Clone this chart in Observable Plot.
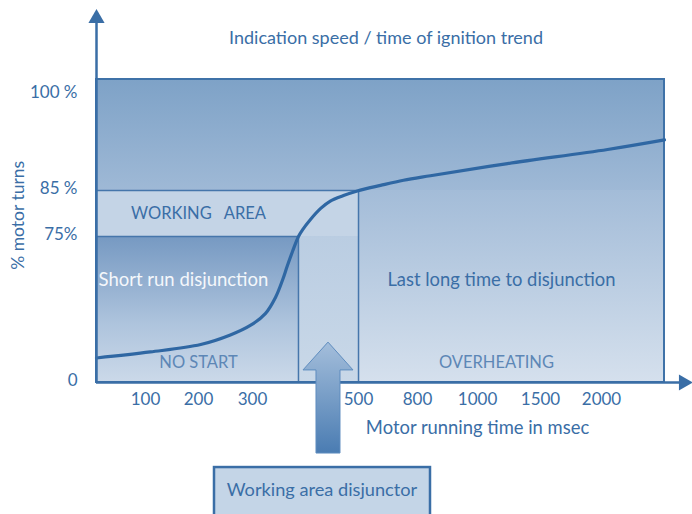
<!DOCTYPE html>
<html><head><meta charset="utf-8">
<script src="https://cdn.jsdelivr.net/npm/d3@7"></script>
<script src="https://cdn.jsdelivr.net/npm/@observablehq/plot@0.6"></script>
<style>body{margin:0;background:#fff;} #chart svg{display:block;}</style>
</head><body><div id="chart"></div>
<script>
// ---- data ----
const title = "Indication speed / time of ignition trend";
const xLabel = "Motor running time in msec";
const yLabel = "% motor turns";
const xTickValues = [100, 200, 300, 500, 800, 1000, 1500, 2000];
const yTickValues = [0, 75, 85, 100];
const yTickLabels = ["0", "75%", "85 %", "100 %"];
// curve: motor running time (ms) vs % motor turns
const curveMs  = [0, 109, 204, 259, 296, 328, 350, 365, 376, 387, 400, 407, 420, 437, 453, 475, 498, 612, 729, 843, 1238, 2048, 2500];
const curvePct = [12.6, 15.7, 19.5, 24.4, 29.3, 35.4, 43.7, 52.4, 60.1, 67.3, 75, 76.5, 78.7, 81.1, 82.7, 83.9, 84.9, 85.8, 86.6, 87.3, 89.2, 91.4, 92.9];
// zones (ms, %)
const zoneNames = ["outer", "overheating", "working", "disjunctor", "shortRun"];
const zoneX1 = [0, 500, 0, 400, 0];
const zoneX2 = [2500, 2500, 500, 500, 400];
const zoneY1 = [0, 0, 75, 0, 0];
const zoneY2 = [103, 85, 85, 75, 75];
const labelTexts = ["WORKING   AREA", "Short run disjunction", "NO START", "Last long time to disjunction", "OVERHEATING"];
const labelMs  = [200, 0, 200, 1190, 1150];
const labelPct = [80, 52.5, 10, 52.5, 10];
const boxText = "Working area disjunctor";

// ---- piecewise axis layout of the drawing (ms / % -> axis units 0..10) ----
const xBreaks = [0, 100, 200, 300, 400, 500, 800, 1000, 1500, 2000, 2500, 2700];
const xUnits  = [0, 0.863, 1.796, 2.746, 3.556, 4.613, 5.651, 6.708, 7.817, 8.891, 10, 10.42];
const yBreaks = [0, 75, 85, 100, 103, 118];
const yUnits  = [0, 4.818, 6.337, 9.505, 10, 12.277];
const msU = d3.scaleLinear().domain(xBreaks).range(xUnits);
const pctU = d3.scaleLinear().domain(yBreaks).range(yUnits);

const W = 692, H = 514;
const curve = curveMs.map((m, i) => ({ms: m, pct: curvePct[i]}));
const zones = zoneNames.map((n, i) => ({name: n, x1: zoneX1[i], x2: zoneX2[i], y1: zoneY1[i], y2: zoneY2[i]}));
const zone = n => zones.filter(z => z.name === n);
const labels = labelTexts.map((t, i) => ({text: t, ms: labelMs[i], pct: labelPct[i]}));
const lab = f => labels.filter(f);

const FONT = "Lato, 'Open Sans', sans-serif";
const BLUE = "#3a6ea6";
const ZX1 = d => msU(d.x1), ZX2 = d => msU(d.x2), ZY1 = d => pctU(d.y1), ZY2 = d => pctU(d.y2);
const rectOpts = o => ({x1: ZX1, x2: ZX2, y1: ZY1, y2: ZY2, ...o});

function defs() {
  const d = d3.create("svg:defs");
  const grad = (id, stops) => {
    const g = d.append("linearGradient").attr("id", id).attr("x1", 0).attr("y1", 0).attr("x2", 0).attr("y2", 1);
    stops.forEach(([o, c]) => g.append("stop").attr("offset", o).attr("stop-color", c));
  };
  grad("gOuter", [[0, "#7ea2c7"], [0.37, "#9fb9d6"], [1, "#c2d3e5"]]);
  grad("gRight", [[0, "#a3bcd8"], [1, "#d5e0ed"]]);
  grad("gMid", [[0, "#bacde2"], [1, "#c9d8e8"]]);
  grad("gShort", [[0, "#7699c2"], [0.6, "#aec4dd"], [1, "#cbd9e9"]]);
  grad("gArrow", [[0, "#a4bedb"], [1, "#4a7cb2"]]);
  return d.node();
}

function arrowAndBox(index, scales) {
  const {x, y} = scales;
  const g = d3.create("svg:g");
  const cx = (x(msU(400)) + x(msU(500))) / 2;
  const tip = y(pctU(20.5)), base = y(pctU(6.2)), bottom = y(pctU(-36.5));
  const hw = 25, sw = 12;
  g.append("path")
    .attr("d", `M${cx},${tip}L${cx + hw},${base}L${cx + sw},${base}L${cx + sw},${bottom}L${cx - sw},${bottom}L${cx - sw},${base}L${cx - hw},${base}Z`)
    .attr("fill", "url(#gArrow)").attr("stroke", "#5f8dbf").attr("stroke-width", 1);
  const bw = 216, bx = cx - 6 - bw / 2, by = bottom + 14;
  g.append("rect").attr("x", bx).attr("y", by).attr("width", bw).attr("height", 62)
    .attr("fill", "#c4d5e7").attr("stroke", BLUE).attr("stroke-width", 2.5);
  g.append("text").attr("x", bx + bw / 2).attr("y", by + 24).attr("text-anchor", "middle")
    .attr("dominant-baseline", "middle").attr("fill", BLUE).attr("font-size", 18.2).attr("font-family", FONT)
    .text(boxText);
  return g.node();
}

const chart = Plot.plot({
  width: W, height: H,
  marginLeft: 96, marginRight: W - 664, marginTop: 79, marginBottom: H - 382,
  style: {fontFamily: FONT, background: "#fff", overflow: "visible"},
  x: {domain: [0, 10], axis: null},
  y: {domain: [0, 10], axis: null},
  marks: [
    defs,
    Plot.rect(zone("outer"), rectOpts({fill: "url(#gOuter)"})),
    Plot.rect(zone("overheating"), rectOpts({fill: "url(#gRight)"})),
    Plot.rect(zone("working"), rectOpts({fill: "#c4d4e6"})),
    Plot.rect(zone("disjunctor"), rectOpts({fill: "url(#gMid)"})),
    Plot.rect(zone("shortRun"), rectOpts({fill: "url(#gShort)"})),
    // zone borders
    Plot.ruleY(zone("working"), {y: ZY2, x1: ZX1, x2: ZX2, stroke: "#4676ab", strokeWidth: 1.5}),
    Plot.ruleY(zone("shortRun"), {y: ZY2, x1: ZX1, x2: ZX2, stroke: "#4676ab", strokeWidth: 1.5}),
    Plot.ruleX(zone("shortRun"), {x: ZX2, y1: ZY1, y2: ZY2, stroke: "#4676ab", strokeWidth: 1.5}),
    Plot.ruleX(zone("overheating"), {x: ZX1, y1: ZY1, y2: ZY2, stroke: "#4676ab", strokeWidth: 1.5}),
    Plot.rect(zone("outer"), rectOpts({fill: "none", stroke: "#3f72a8", strokeWidth: 2})),
    // labels inside zones
    Plot.text(lab(d => d.text.startsWith("WORKING")), {x: d => msU(d.ms), y: d => pctU(d.pct), text: "text", fill: BLUE, fontSize: 16.5, textAnchor: "middle", style: "white-space:pre"}),
    Plot.text(lab(d => d.text.startsWith("Short")), {x: d => msU(d.ms), y: d => pctU(d.pct), text: "text", fill: "#f4f7fb", fontSize: 18.5, textAnchor: "start", dx: 2}),
    Plot.text(lab(d => d.text.startsWith("Last")), {x: d => msU(d.ms), y: d => pctU(d.pct), text: "text", fill: BLUE, fontSize: 18.4, textAnchor: "middle"}),
    Plot.text(lab(d => d.text === "NO START" || d.text === "OVERHEATING"), {x: d => msU(d.ms), y: d => pctU(d.pct), text: "text", fill: "#5d87b6", fontSize: 16.5, textAnchor: "middle"}),
    // curve
    Plot.line(curve, {x: d => msU(d.ms), y: d => pctU(d.pct), stroke: "#2f67a3", strokeWidth: 3.2, curve: "catmull-rom"}),
    // axes
    Plot.ruleX([0], {y1: 0, y2: pctU(116), stroke: BLUE, strokeWidth: 2.5}),
    Plot.ruleY([0], {x1: 0, x2: msU(2650), stroke: BLUE, strokeWidth: 2.5}),
    Plot.dot([0], {x: 0, y: pctU(116.3), symbol: "triangle", r: 6, fill: BLUE, stroke: "none"}),
    Plot.dot([0], {x: msU(2660), y: 0, symbol: "triangle", r: 6, fill: BLUE, stroke: "none", rotate: 90}),
    Plot.axisX(xTickValues.map(msU), {tickSize: 0, tickPadding: 10, fontSize: 17, fill: BLUE, anchor: "bottom", label: null,
      tickFormat: u => String(Math.round(msU.invert(u)))}),
    Plot.axisY(yTickValues.map(pctU), {tickSize: 0, tickPadding: 19, fontSize: 17, fill: BLUE, anchor: "left", label: null, dy: -2,
      tickFormat: u => yTickLabels[yTickValues.indexOf(Math.round(pctU.invert(u)))]}),
    Plot.text([xLabel], {x: msU(1000), y: pctU(-23.6), text: d => d, fill: BLUE, fontSize: 18.4, textAnchor: "middle"}),
    Plot.text([yLabel], {frameAnchor: "left", y: pctU(79.6), dx: -78, text: d => d, fill: BLUE, fontSize: 17.5, rotate: -90, textAnchor: "middle"}),
    Plot.text([title], {x: msU(640), y: pctU(112), text: d => d, fill: BLUE, fontSize: 18, textAnchor: "middle"}),
    arrowAndBox
  ]
});
document.getElementById("chart").append(chart);
</script>
</body></html>
